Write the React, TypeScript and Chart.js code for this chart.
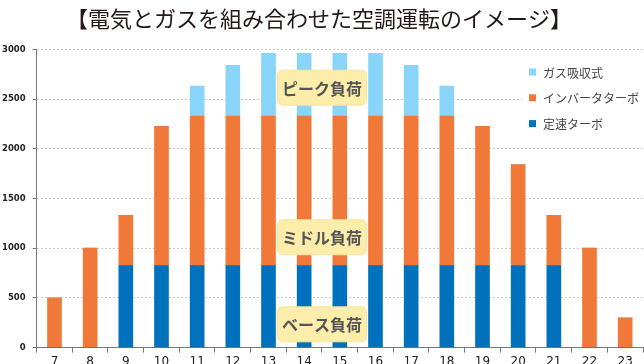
import React, { useEffect, useRef } from "react";
import { Chart, registerables } from "chart.js";

Chart.register(...registerables);

const TITLE = "【電気とガスを組み合わせた空調運転のイメージ】";
const hours = ["7", "8", "9", "10", "11", "12", "13", "14", "15", "16", "17", "18", "19", "20", "21", "22", "23"];
const constantTurbo = [0, 0, 825, 825, 825, 825, 825, 825, 825, 825, 825, 825, 825, 825, 825, 0, 0];
const inverterTurbo = [500, 1000, 505, 1400, 1505, 1505, 1505, 1505, 1505, 1505, 1505, 1505, 1400, 1015, 505, 1000, 300];
const gasAbsorption = [0, 0, 0, 0, 300, 510, 630, 630, 630, 630, 510, 300, 0, 0, 0, 0, 0];
const seriesNames = ["定速ターボ", "インバータターボ", "ガス吸収式"];
const seriesColors = ["#0071bc", "#f07838", "#89d4fa"];
const yTicks = [0, 500, 1000, 1500, 2000, 2500, 3000];
const loadLabels = ["ピーク負荷", "ミドル負荷", "ベース負荷"];
const loadValues = [2615, 1110, 234];
const loadCategories = ["14", "15"];

const FONT = "'Noto Sans CJK JP', 'Noto Sans', sans-serif";

const loadBoxPlugin = {
  id: "loadBoxes",
  afterDatasetsDraw(chart: any) {
    const { ctx, scales } = chart;
    const x = (scales.x.getPixelForValue(hours.indexOf(loadCategories[0])) +
      scales.x.getPixelForValue(hours.indexOf(loadCategories[1]))) / 2;
    const w = 89;
    const h = 35;
    loadLabels.forEach((label, i) => {
      const y = scales.y.getPixelForValue(loadValues[i]);
      ctx.save();
      ctx.beginPath();
      ctx.roundRect(x - w / 2, y - h / 2, w, h, 5);
      ctx.fillStyle = "#fdedab";
      ctx.fill();
      ctx.strokeStyle = "#f9e49a";
      ctx.lineWidth = 1;
      ctx.stroke();
      ctx.fillStyle = "#555555";
      ctx.font = `bold 16px ${FONT}`;
      ctx.textAlign = "center";
      ctx.textBaseline = "middle";
      ctx.fillText(label, x, y + 1);
      ctx.restore();
    });
  },
};

const legendPlugin = {
  id: "customLegend",
  afterDraw(chart: any) {
    const { ctx } = chart;
    const ds = chart.data.datasets;
    ctx.save();
    ctx.fillStyle = "#ffffff";
    ctx.fillRect(522, 60, 122, 76);
    const order = [2, 1, 0];
    order.forEach((di, row) => {
      const y = 72 + row * 25.8;
      ctx.fillStyle = ds[di].backgroundColor;
      ctx.fillRect(529, y - 3.5, 7, 7);
      ctx.fillStyle = "#444444";
      ctx.font = `12px ${FONT}`;
      ctx.textAlign = "left";
      ctx.textBaseline = "middle";
      ctx.fillText(ds[di].label, 543, y + 1);
    });
    ctx.restore();
  },
};

export default function App() {
  const ref = useRef<HTMLCanvasElement>(null);
  useEffect(() => {
    document.body.style.margin = "0";
    const chart = new Chart(ref.current!, {
      type: "bar",
      data: {
        labels: hours,
        datasets: [
          { label: seriesNames[0], data: constantTurbo, backgroundColor: seriesColors[0] },
          { label: seriesNames[1], data: inverterTurbo, backgroundColor: seriesColors[1] },
          { label: seriesNames[2], data: gasAbsorption, backgroundColor: seriesColors[2] },
        ],
      },
      options: {
        responsive: false,
        animation: false,
        layout: { padding: { left: -5, right: 1, top: 0, bottom: -7 } },
        datasets: { bar: { barThickness: 14, borderWidth: 0 } },
        plugins: {
          legend: { display: false },
          tooltip: { enabled: false },
          title: {
            display: true,
            text: TITLE,
            color: "#231815",
            font: { family: FONT, size: 22, weight: "normal" },
            padding: { top: 5, bottom: 18 },
          },
        },
        scales: {
          x: {
            stacked: true,
            offset: true,
            border: { color: "#777777", width: 1 },
            grid: { drawOnChartArea: false, tickLength: 5, tickColor: "#777777", offset: true },
            ticks: { color: "#222222", font: { family: "'DejaVu Sans'", size: 12 }, padding: 2, maxRotation: 0 },
          },
          y: {
            stacked: true,
            min: 0,
            max: 3000,
            afterBuildTicks: (axis: any) => {
              axis.ticks = yTicks.map((v) => ({ value: v }));
            },
            border: { color: "#777777", width: 1, dash: [2, 2] },
            grid: { color: "#cccccc", tickLength: 4, tickColor: "#777777", tickBorderDash: [] },
            ticks: {
              color: "#222222",
              font: { family: "'DejaVu Sans'", size: 8.5, weight: "bold" },
              padding: 7,
              callback: (v: any) => String(v),
            },
          },
        },
      },
      plugins: [loadBoxPlugin, legendPlugin],
    });
    return () => chart.destroy();
  }, []);
  return (
    <div style={{ width: 644, height: 364 }}>
      <canvas ref={ref} width={644} height={364} />
    </div>
  );
}
